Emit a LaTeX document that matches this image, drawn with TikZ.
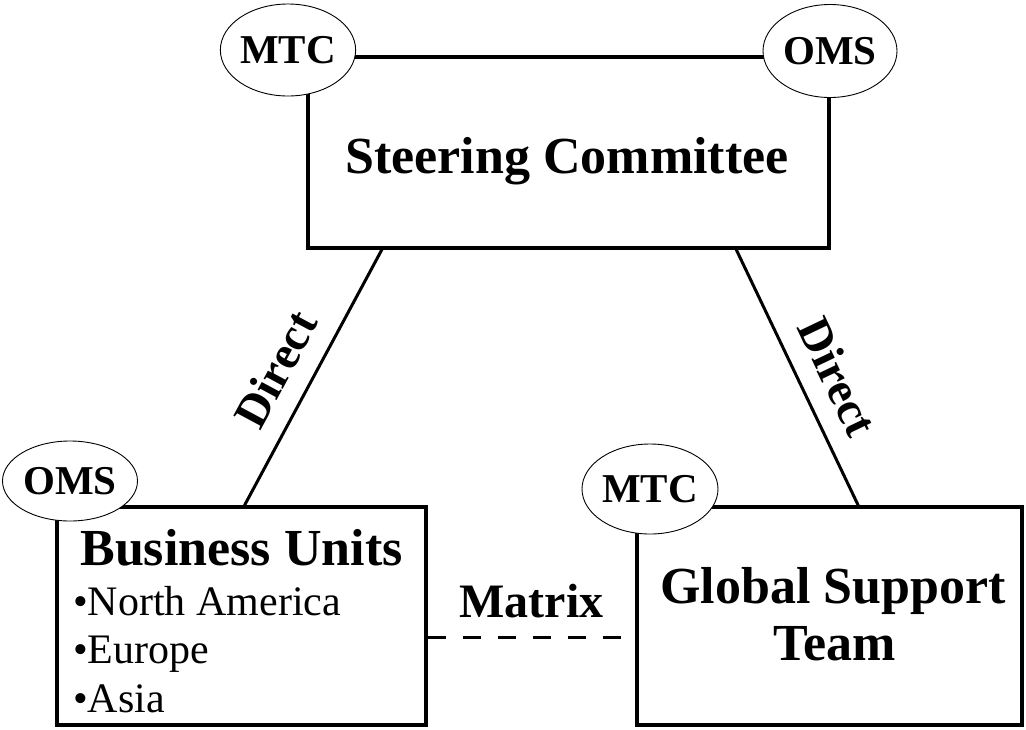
\documentclass[tikz,border=0pt]{standalone}
\usepackage{fontspec}
\setmainfont{Liberation Serif}
\usetikzlibrary{shapes.geometric,calc}
\begin{document}
\begin{tikzpicture}[x=1pt,y=-1pt,
  unitbox/.style={draw,line width=3.2pt,rectangle,inner sep=0pt},
  heading/.style={font=\fontsize{52}{56}\selectfont\bfseries,inner sep=0pt,anchor=base},
  item/.style={font=\fontsize{42}{46}\selectfont,inner sep=0pt,anchor=base west},
  tag/.style={draw,line width=0.9pt,ellipse,fill=white,inner sep=0pt,
    minimum width=135pt,minimum height=92pt,font=\fontsize{41}{43}\selectfont\bfseries},
  link/.style={line width=3pt},
  linklabel/.style={font=\fontsize{47}{50}\selectfont\bfseries,inner sep=0pt}]
\useasboundingbox (0,0) rectangle (1026,729);

% main boxes
\node[unitbox,minimum width=521pt,minimum height=191pt] (steer) at (568.5,152.5) {};
\node[heading] (steertxt) at (567,173) {Steering Committee};

\node[unitbox,minimum width=369pt,minimum height=218pt] (bu) at (241.5,616) {};
\node[heading] (butitle) at (241.5,565) {Business Units};
\node[item] (bu1) at (73,615) {\textbullet North America};
\node[item] (bu2) at (73,663) {\textbullet Europe};
\node[item] (bu3) at (73,712) {\textbullet Asia};

\node[unitbox,minimum width=385pt,minimum height=218pt] (gst) at (829.5,616) {};
\node[heading] (gst1) at (833,603) {Global Support};
\node[heading] (gst2) at (835,660) {Team};

% connectors
\draw[link] ($(steer.south west)!0.144!(steer.south east)$) --
  node[linklabel,sloped,above=19pt,pos=0.536] (d1) {Direct}
  ($(bu.north west)!0.508!(bu.north east)$);
\draw[link] ($(steer.south west)!0.82!(steer.south east)$) --
  node[linklabel,sloped,above=19pt,pos=0.56] (d2) {Direct}
  ($(gst.north west)!0.574!(gst.north east)$);
\draw[link,dash pattern=on 18pt off 17pt] ([yshift=-21pt]bu.east) --
  node[linklabel,font=\fontsize{48}{50}\selectfont\bfseries,anchor=base,yshift=20pt] (mx) {Matrix}
  ([yshift=-21pt]gst.west);

% role tags
\node[tag] (mtc1) at (288,50) {MTC};
\node[tag,minimum width=134pt,minimum height=93pt] (oms1) at (830,51) {OMS};
\node[tag,minimum width=135pt,minimum height=80pt] (oms2) at (70,481) {OMS};
\node[tag,minimum width=136pt,minimum height=90pt] (mtc2) at (650,489) {MTC};
\end{tikzpicture}
\end{document}
